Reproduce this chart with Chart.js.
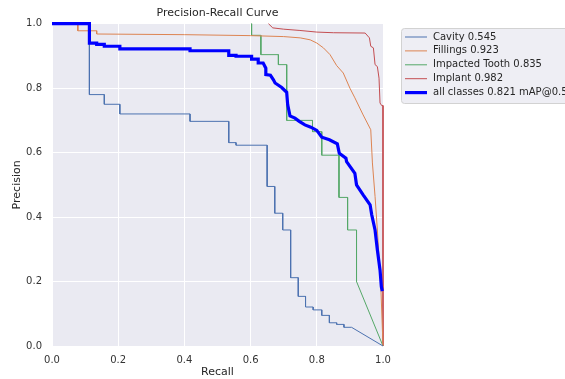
<!DOCTYPE html>
<html lang="en">
<head>
    <meta charset="UTF-8">
    <title>Precision-Recall Curve</title>
    <script src="https://cdn.jsdelivr.net/npm/chart.js"></script>
    <style>
        html, body { margin: 0; padding: 0; background: #fff; }
        #wrap { width: 565px; height: 379px; }
    </style>
</head>
<body>
<div id="wrap"><canvas id="prChart" width="565" height="379"></canvas></div>
<script>
    // series labels (class name + AP@0.5)
    var seriesLabels = ['Cavity 0.545', 'Fillings 0.923', 'Impacted Tooth 0.835', 'Implant 0.982', 'all classes 0.821 mAP@0.5'];
    var axisTicks = [0.0, 0.2, 0.4, 0.6, 0.8, 1.0];

    // values: recall (x) and precision (y)
    var cavityRecall = [0, 0.113, 0.113, 0.158, 0.158, 0.205, 0.205, 0.417, 0.417, 0.534, 0.534, 0.556, 0.556, 0.650, 0.650, 0.673, 0.673, 0.697, 0.697, 0.721, 0.721, 0.744, 0.744, 0.766, 0.766, 0.789, 0.789, 0.815, 0.815, 0.838, 0.838, 0.860, 0.860, 0.882, 0.882, 0.905, 1.0];
    var cavityPrecision = [1, 1, 0.78, 0.78, 0.75, 0.75, 0.72, 0.72, 0.697, 0.697, 0.631, 0.631, 0.623, 0.623, 0.495, 0.495, 0.412, 0.412, 0.36, 0.36, 0.212, 0.212, 0.154, 0.154, 0.121, 0.121, 0.112, 0.112, 0.095, 0.095, 0.072, 0.072, 0.067, 0.067, 0.058, 0.058, 0.0];

    var fillingsRecall = [0, 0.078, 0.078, 0.135, 0.135, 0.40, 0.60, 0.70, 0.75, 0.78, 0.80, 0.82, 0.84, 0.86, 0.88, 0.90, 0.915, 0.94, 0.963, 0.968, 0.976, 0.983, 0.989, 0.993, 1.0];
    var fillingsPrecision = [1, 1, 0.978, 0.978, 0.968, 0.966, 0.963, 0.96, 0.956, 0.95, 0.94, 0.925, 0.904, 0.87, 0.847, 0.80, 0.77, 0.717, 0.671, 0.568, 0.464, 0.36, 0.258, 0.196, 0.0];

    var impactedRecall = [0.603, 0.603, 0.631, 0.631, 0.684, 0.684, 0.709, 0.709, 0.787, 0.787, 0.815, 0.815, 0.867, 0.867, 0.893, 0.893, 0.92, 0.92, 1.0];
    var impactedPrecision = [1.0, 0.964, 0.964, 0.904, 0.904, 0.873, 0.873, 0.70, 0.70, 0.665, 0.665, 0.592, 0.592, 0.461, 0.461, 0.36, 0.36, 0.20, 0.0];

    var implantRecall = [0.654, 0.667, 0.70, 0.749, 0.80, 0.85, 0.946, 0.959, 0.963, 0.971, 0.976, 0.983, 0.988, 0.991, 0.996, 1.0, 1.0];
    var implantPrecision = [1.0, 0.987, 0.983, 0.979, 0.974, 0.972, 0.971, 0.956, 0.93, 0.925, 0.873, 0.867, 0.831, 0.754, 0.746, 0.746, 0.0];

    var allRecall = [0, 0.113, 0.113, 0.135, 0.135, 0.158, 0.158, 0.205, 0.205, 0.417, 0.417, 0.534, 0.534, 0.556, 0.556, 0.603, 0.603, 0.623, 0.623, 0.638, 0.646, 0.646, 0.66, 0.669, 0.674, 0.694, 0.709, 0.712, 0.719, 0.734, 0.747, 0.764, 0.782, 0.80, 0.815, 0.838, 0.862, 0.868, 0.888, 0.89, 0.915, 0.92, 0.94, 0.961, 0.966, 0.976, 0.983, 0.991, 0.995, 0.998];
    var allPrecision = [1, 1, 0.94, 0.94, 0.936, 0.936, 0.93, 0.93, 0.922, 0.922, 0.916, 0.916, 0.902, 0.902, 0.899, 0.899, 0.89, 0.89, 0.878, 0.878, 0.862, 0.842, 0.84, 0.826, 0.816, 0.802, 0.787, 0.749, 0.714, 0.707, 0.697, 0.686, 0.679, 0.669, 0.648, 0.64, 0.627, 0.598, 0.583, 0.572, 0.536, 0.50, 0.469, 0.438, 0.407, 0.36, 0.298, 0.236, 0.184, 0.17];

    var seriesColors = ['#4C72B0', '#DD8452', '#55A868', '#C44E52', '#0000FF'];

    function pts(xs, ys) {
        return xs.map(function (x, i) { return { x: x, y: ys[i] }; });
    }

    var seriesData = [
        pts(cavityRecall, cavityPrecision),
        pts(fillingsRecall, fillingsPrecision),
        pts(impactedRecall, impactedPrecision),
        pts(implantRecall, implantPrecision),
        pts(allRecall, allPrecision)
    ];

    var datasets = seriesData.map(function (d, i) {
        var thick = i === 4;
        return {
            label: seriesLabels[i],
            data: d,
            borderColor: seriesColors[i],
            borderWidth: thick ? 3.2 : 1,
            pointRadius: 0,
            tension: 0,
            fill: false,
            clip: 3,
            order: thick ? 0 : 1
        };
    });

    // grey plot background like seaborn darkgrid
    var plotBg = {
        id: 'plotBg',
        beforeDraw: function (chart) {
            var c = chart.ctx, a = chart.chartArea;
            c.save();
            c.fillStyle = '#ffffff';
            c.fillRect(0, 0, chart.width, chart.height);
            c.fillStyle = '#EAEAF2';
            c.fillRect(a.left, a.top, a.right - a.left, a.bottom - a.top);
            c.restore();
        }
    };

    // legend box outside the axes, to the right
    var sideLegend = {
        id: 'sideLegend',
        afterDraw: function (chart) {
            var c = chart.ctx;
            c.save();
            c.fillStyle = '#EEEEF4';
            c.strokeStyle = '#D2D2D2';
            c.lineWidth = 1;
            c.beginPath();
            c.roundRect(401.5, 28.5, 200, 75, 3);
            c.fill();
            c.stroke();
            c.font = '10px "DejaVu Sans"';
            c.textBaseline = 'middle';
            chart.data.datasets.forEach(function (ds, i) {
                var y = 37 + i * 13.9;
                c.strokeStyle = ds.borderColor;
                c.lineWidth = ds.borderWidth;
                c.beginPath();
                c.moveTo(405, y);
                c.lineTo(427, y);
                c.stroke();
                c.fillStyle = '#262626';
                c.fillText(ds.label, 433, y);
            });
            c.restore();
        }
    };

    var tickFmt = function (v) { return Number(v).toFixed(1); };

    var ctx = document.getElementById('prChart').getContext('2d');
    var prChart = new Chart(ctx, {
        type: 'line',
        data: { datasets: datasets },
        plugins: [plotBg, sideLegend],
        options: {
            responsive: false,
            animation: false,
            devicePixelRatio: 1,
            layout: { padding: { left: 0, right: 182, top: 0, bottom: 0 } },
            plugins: {
                legend: { display: false },
                tooltip: { enabled: false },
                title: {
                    display: true,
                    text: 'Precision-Recall Curve',
                    fullSize: false,
                    color: '#262626',
                    font: { family: 'DejaVu Sans', size: 11, weight: 'normal' },
                    padding: { top: 7, bottom: 3.5 }
                }
            },
            scales: {
                x: {
                    type: 'linear',
                    min: 0,
                    max: 1,
                    afterFit: function (s) { s.height = 33; },
                    afterBuildTicks: function (s) { s.ticks = axisTicks.map(function (v) { return { value: v }; }); },
                    border: { display: false },
                    grid: { color: '#ffffff', lineWidth: 1, drawTicks: false },
                    ticks: { callback: tickFmt, color: '#333333', padding: 8, maxRotation: 0, font: { family: 'DejaVu Sans', size: 10 } },
                    title: { display: true, text: 'Recall', color: '#262626', padding: { top: 0, bottom: 0 }, font: { family: 'DejaVu Sans', size: 11 } }
                },
                y: {
                    type: 'linear',
                    min: 0,
                    max: 1,
                    afterFit: function (s) { s.width = 52; },
                    afterBuildTicks: function (s) { s.ticks = axisTicks.map(function (v) { return { value: v }; }); },
                    border: { display: false },
                    grid: { color: '#ffffff', lineWidth: 1, drawTicks: false },
                    ticks: { callback: tickFmt, color: '#333333', padding: 10, font: { family: 'DejaVu Sans', size: 10 } },
                    title: { display: true, text: 'Precision', color: '#262626', padding: { top: 11, bottom: 0 }, font: { family: 'DejaVu Sans', size: 11 } }
                }
            }
        }
    });
</script>
</body>
</html>
